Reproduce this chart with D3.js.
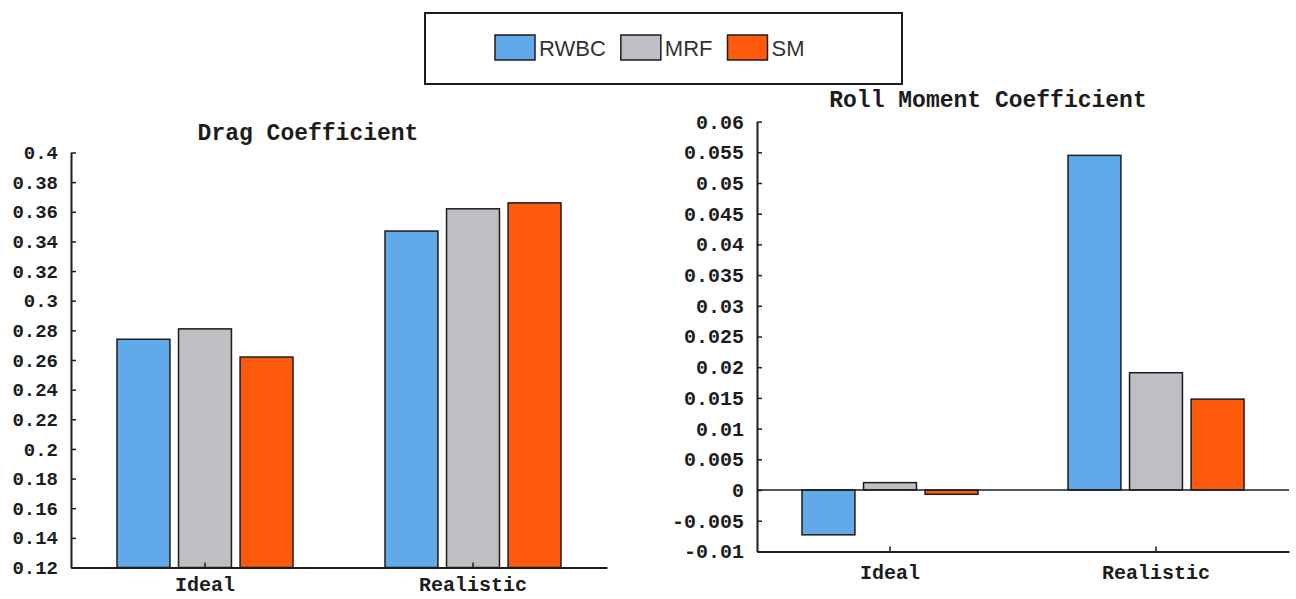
<!DOCTYPE html>
<html>
<head>
<meta charset="utf-8">
<script src="https://cdn.jsdelivr.net/npm/d3@7"></script>
<style>
  html, body { margin: 0; padding: 0; background: #fff; }
  svg { display: block; }
</style>
</head>
<body>
<svg id="chart" width="1296" height="599"></svg>
<script>
// ---- data ----
const categories = ["Ideal", "Realistic"];
const seriesNames = ["RWBC", "MRF", "SM"];

// Drag coefficient per configuration
const dragRWBC = [0.274, 0.347];
const dragMRF  = [0.281, 0.362];
const dragSM   = [0.262, 0.366];

// Roll moment coefficient per configuration
const rollRWBC = [-0.0073, 0.0545];
const rollMRF  = [0.0012, 0.0191];
const rollSM   = [-0.0007, 0.0148];

const dragTicks = [0.12, 0.14, 0.16, 0.18, 0.2, 0.22, 0.24, 0.26, 0.28, 0.3, 0.32, 0.34, 0.36, 0.38, 0.4];
const dragTickLabels = ["0.12", "0.14", "0.16", "0.18", "0.2", "0.22", "0.24", "0.26", "0.28", "0.3", "0.32", "0.34", "0.36", "0.38", "0.4"];
const rollTicks = [-0.01, -0.005, 0, 0.005, 0.01, 0.015, 0.02, 0.025, 0.03, 0.035, 0.04, 0.045, 0.05, 0.055, 0.06];
const rollTickLabels = ["-0.01", "-0.005", "0", "0.005", "0.01", "0.015", "0.02", "0.025", "0.03", "0.035", "0.04", "0.045", "0.05", "0.055", "0.06"];

// ---- styling ----
const colors = { RWBC: "#62a9ea", MRF: "#bfbec4", SM: "#fd5a0e" };
const ink = "#1c1c1c";
const mono = "'Liberation Mono', 'DejaVu Sans Mono', monospace";

const svg = d3.select("#chart");

function panel(opts) {
  const { title, titleX, titleY, xRange, yDomain, yRange, ticks, tickLabels, values, baseline, tickFont, labelPad } = opts;

  const x0 = d3.scaleBand().domain(categories).range(xRange).padding(0);
  const x1 = d3.scaleBand().domain(seriesNames).range([-88, 88]).paddingInner(0.14);
  const y = d3.scaleLinear().domain(yDomain).range(yRange);

  const g = svg.append("g");

  // bars
  const rows = [];
  categories.forEach((c, i) => {
    seriesNames.forEach(s => rows.push({ cat: c, series: s, value: values[s][i] }));
  });
  g.selectAll("rect.bar").data(rows).join("rect")
    .attr("class", "bar")
    .attr("x", d => x0(d.cat) + x0.bandwidth() / 2 + x1(d.series))
    .attr("width", x1.bandwidth())
    .attr("y", d => Math.min(y(d.value), y(baseline)))
    .attr("height", d => Math.abs(y(d.value) - y(baseline)))
    .attr("fill", d => colors[d.series])
    .attr("stroke", ink)
    .attr("stroke-width", 1.5);

  // zero baseline when inside the range
  if (baseline > yDomain[0]) {
    g.append("line")
      .attr("x1", xRange[0]).attr("x2", xRange[1])
      .attr("y1", y(baseline)).attr("y2", y(baseline))
      .attr("stroke", ink).attr("stroke-width", 1.3);
  }

  // y axis
  const yAxis = d3.axisLeft(y)
    .tickValues(ticks)
    .tickFormat((d, i) => tickLabels[i])
    .tickSizeInner(-5).tickSizeOuter(0).tickPadding(13);
  const gy = g.append("g").attr("transform", `translate(${xRange[0]},0)`).call(yAxis);
  gy.select(".domain").attr("stroke", ink).attr("stroke-width", 2);
  gy.selectAll(".tick line").attr("stroke", ink).attr("stroke-width", 1.5);
  gy.selectAll(".tick text")
    .attr("font-family", mono).attr("font-weight", "bold")
    .attr("font-size", tickFont).attr("fill", ink);

  // x axis
  const xAxis = d3.axisBottom(x0).tickSizeInner(-5).tickSizeOuter(0).tickPadding(labelPad);
  const gx = g.append("g").attr("transform", `translate(0,${yRange[0]})`).call(xAxis);
  gx.select(".domain").attr("stroke", ink).attr("stroke-width", 2);
  gx.selectAll(".tick line").attr("stroke", ink).attr("stroke-width", 1.5);
  gx.selectAll(".tick text")
    .attr("font-family", mono).attr("font-weight", "bold")
    .attr("font-size", 20).attr("fill", ink);

  // title
  g.append("text")
    .attr("x", titleX).attr("y", titleY)
    .attr("text-anchor", "middle")
    .attr("dominant-baseline", "middle")
    .attr("font-family", mono).attr("font-weight", "bold")
    .attr("font-size", 23).attr("fill", ink)
    .text(title);
}

panel({
  title: "Drag Coefficient",
  titleX: 308, titleY: 134,
  xRange: [71, 607],
  yDomain: [0.12, 0.4],
  yRange: [567.5, 152.5],
  ticks: dragTicks, tickLabels: dragTickLabels,
  values: { RWBC: dragRWBC, MRF: dragMRF, SM: dragSM },
  baseline: 0.12,
  tickFont: 19,
  labelPad: 9
});

panel({
  title: "Roll Moment Coefficient",
  titleX: 988, titleY: 101,
  xRange: [757, 1289],
  yDomain: [-0.01, 0.06],
  yRange: [551.4, 121.6],
  ticks: rollTicks, tickLabels: rollTickLabels,
  values: { RWBC: rollRWBC, MRF: rollMRF, SM: rollSM },
  baseline: 0,
  tickFont: 20,
  labelPad: 13
});

// ---- legend ----
const legend = svg.append("g");
legend.append("rect")
  .attr("x", 425).attr("y", 13).attr("width", 477).attr("height", 71)
  .attr("fill", "#fff").attr("stroke", ink).attr("stroke-width", 2);

let cursor = 495;
seriesNames.forEach(name => {
  legend.append("rect")
    .attr("x", cursor).attr("y", 35).attr("width", 40).attr("height", 25)
    .attr("fill", colors[name]).attr("stroke", ink).attr("stroke-width", 1.5);
  const t = legend.append("text")
    .attr("x", cursor + 44).attr("y", 56)
    .attr("font-family", "'Liberation Sans', Arial, sans-serif")
    .attr("font-size", 22).attr("fill", "#333")
    .text(name);
  cursor += 44 + t.node().getComputedTextLength() + 15;
});
</script>
</body>
</html>
